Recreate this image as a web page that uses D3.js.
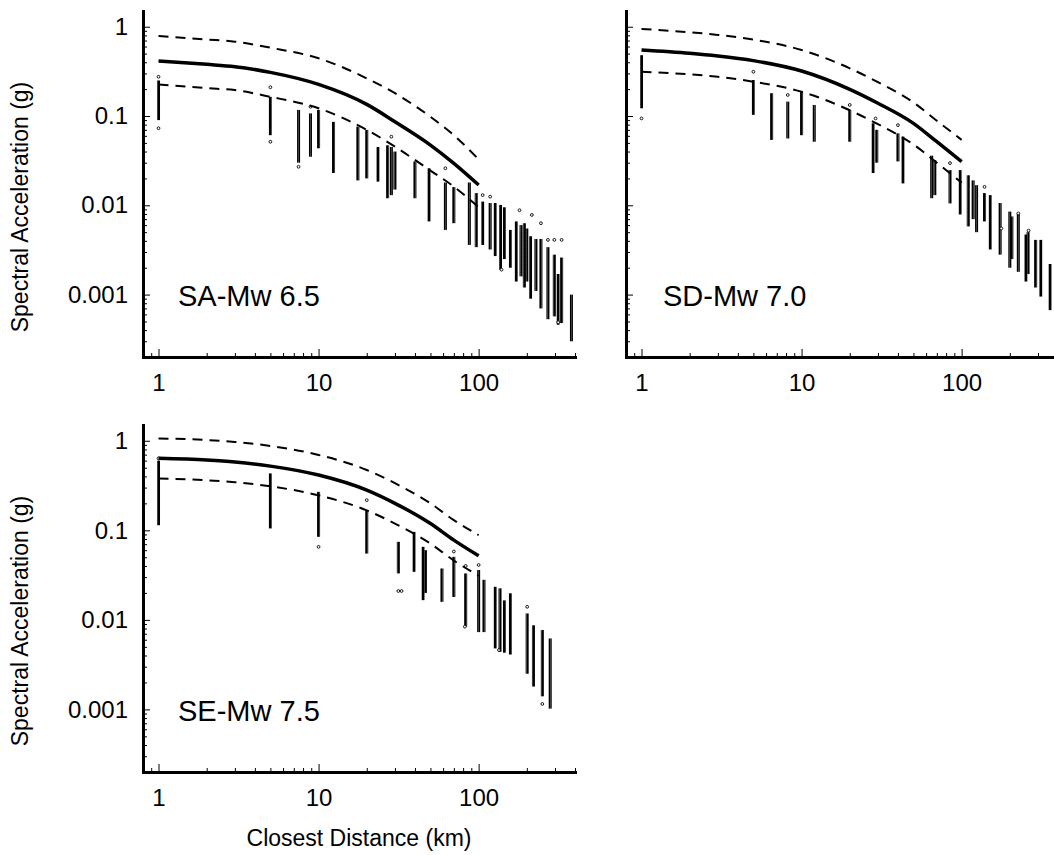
<!DOCTYPE html>
<meta charset="utf-8">
<head>
  <style>
    body { margin: 0; background: #fff; }
    svg { display: block; font-family: "Liberation Sans", Arial, sans-serif; }
    .domain { stroke: #000; stroke-width: 3px; stroke-linecap: square; }
    .tick line { stroke: #000; stroke-width: 1px; }
    .tick text { font-size: 24px; fill: #000; }
    .median { fill: none; stroke: #000; stroke-width: 3.5px; }
    .bound { fill: none; stroke: #000; stroke-width: 2px; stroke-dasharray: 10,7; }
    .pt { fill: #fff; stroke: #000; stroke-width: 0.9px; }
    .panel-label { font-size: 29px; }
    .axis-title { font-size: 23px; }
  </style>
</head>
<body>
<script src="https://d3js.org/d3.v7.min.js"></script>
<script>
// ---- data ----
// columns: [distance km, top of cluster (g), bottom of cluster (g)]
const saColumns = [
  [1, 0.25, 0.09], [5, 0.164, 0.061], [7.5, 0.117, 0.03], [8.9, 0.107, 0.035], [10, 0.117, 0.0435],
  [12.4, 0.086, 0.023], [17.6, 0.076, 0.019], [20, 0.07, 0.02], [23.5, 0.045, 0.0184],
  [27, 0.047, 0.012], [28.5, 0.045, 0.013], [30, 0.04, 0.015], [40, 0.031, 0.012],
  [49, 0.026, 0.0066], [62, 0.018, 0.0053], [70, 0.016, 0.0063], [87.5, 0.018, 0.0036],
  [96.6, 0.0137, 0.0034], [106, 0.011, 0.0036], [118, 0.0106, 0.0032], [127, 0.0106, 0.0027],
  [137, 0.0101, 0.0019], [145, 0.0095, 0.0025], [158, 0.0053, 0.002], [172, 0.0066, 0.0014],
  [184, 0.006, 0.0016], [193, 0.0063, 0.0012], [200, 0.0055, 0.0014], [211, 0.0045, 0.0009],
  [228, 0.0042, 0.0011], [245, 0.0042, 0.0007], [271, 0.0034, 0.00053], [297, 0.0028, 0.00057],
  [314, 0.0017, 0.00046], [330, 0.0026, 0.00048], [380, 0.001, 0.0003]
];
const saOutliers = [
  [1, 0.275], [1, 0.073], [5, 0.21], [5, 0.0515], [8.9, 0.127], [7.5, 0.027], [28.5, 0.0587],
  [62, 0.026], [106, 0.013], [118, 0.0125], [139, 0.0019], [180, 0.0088], [215, 0.0078],
  [245, 0.0063], [271, 0.0041], [297, 0.0041], [330, 0.0041], [314, 0.00049]
];
const sdColumns = [
  [1, 0.48, 0.122], [5, 0.253, 0.103], [6.5, 0.18, 0.054], [8.2, 0.145, 0.056], [10, 0.187, 0.061],
  [12, 0.133, 0.0515], [20, 0.117, 0.0515], [28, 0.083, 0.023], [29.5, 0.07, 0.03],
  [40, 0.064, 0.031], [43, 0.0587, 0.0176], [65, 0.036, 0.012], [68, 0.032, 0.013],
  [84.6, 0.0248, 0.0105], [98, 0.0248, 0.0079], [110, 0.0217, 0.0058], [118, 0.019, 0.007],
  [124, 0.0168, 0.005], [139, 0.0137, 0.0066], [151, 0.013, 0.0032], [174, 0.0106, 0.0028],
  [200, 0.0085, 0.002], [206, 0.0075, 0.0025], [226, 0.0081, 0.0018], [252, 0.0047, 0.0014],
  [260, 0.005, 0.0017], [290, 0.0041, 0.0012], [312, 0.0041, 0.00095], [357, 0.0022, 0.00067]
];
const sdOutliers = [
  [1, 0.094], [5, 0.313], [8.2, 0.172], [20, 0.133], [29, 0.094], [40, 0.079], [84.6, 0.0297],
  [139, 0.0161], [177, 0.0055], [226, 0.0081], [262, 0.0052]
];
const seColumns = [
  [1, 0.6, 0.114], [5, 0.432, 0.105], [10, 0.269, 0.0846], [20, 0.168, 0.055], [31.5, 0.0744, 0.033],
  [39.5, 0.096, 0.0344], [45, 0.0654, 0.0166], [46.5, 0.06, 0.02], [59, 0.0375, 0.0159],
  [70, 0.0506, 0.018], [83, 0.033, 0.0084], [100, 0.036, 0.0073], [108, 0.028, 0.0073],
  [127, 0.0234, 0.0048], [136, 0.0225, 0.0044], [145, 0.0165, 0.0043], [158, 0.0198, 0.0041],
  [201, 0.0118, 0.0025], [220, 0.0087, 0.0018], [250, 0.0077, 0.0014], [280, 0.0062, 0.00102]
];
const seOutliers = [
  [1, 0.636], [10, 0.0654], [20, 0.217], [31.5, 0.021], [33, 0.021], [70, 0.058], [83, 0.04],
  [82, 0.0084], [100, 0.041], [134, 0.0046], [201, 0.014], [250, 0.00115]
];

// predicted median and +/- one sigma curves
const curveDist = [1, 2, 3, 5, 10, 20, 30, 50, 70, 100];
const saMedian = [0.413, 0.379, 0.357, 0.308, 0.226, 0.135, 0.0863, 0.0473, 0.0295, 0.0169];
const saUpper  = [0.787, 0.72, 0.68, 0.582, 0.443, 0.264, 0.18, 0.098, 0.061, 0.0327];
const saLower  = [0.226, 0.205, 0.195, 0.164, 0.122, 0.07, 0.0453, 0.0245, 0.0162, 0.0095];
const sdMedian = [0.548, 0.504, 0.47, 0.417, 0.319, 0.199, 0.139, 0.0828, 0.0515, 0.0308];
const sdUpper  = [0.943, 0.867, 0.81, 0.717, 0.549, 0.342, 0.239, 0.142, 0.0886, 0.054];
const sdLower  = [0.313, 0.293, 0.275, 0.242, 0.187, 0.116, 0.081, 0.048, 0.030, 0.0179];
const seMedian = [0.636, 0.609, 0.58, 0.521, 0.414, 0.281, 0.2, 0.119, 0.0777, 0.0519];
const seUpper  = [1.06, 1.02, 0.97, 0.875, 0.695, 0.472, 0.336, 0.2, 0.13, 0.0883];
const seLower  = [0.38, 0.362, 0.345, 0.31, 0.246, 0.167, 0.119, 0.071, 0.046, 0.031];

const xMajor = [1, 10, 100];
const xMinor = [0.9, 2, 3, 4, 5, 6, 7, 8, 9, 20, 30, 40, 50, 60, 70, 80, 90, 200, 300, 400];
const yMajor = [1, 0.1, 0.01, 0.001];
const yMinor = [0.0003, 0.0004, 0.0005, 0.0006, 0.0007, 0.0008, 0.0009,
  0.002, 0.003, 0.004, 0.005, 0.006, 0.007, 0.008, 0.009,
  0.02, 0.03, 0.04, 0.05, 0.06, 0.07, 0.08, 0.09,
  0.2, 0.3, 0.4, 0.5, 0.6, 0.7, 0.8, 0.9];

const W = 1054, H = 855;
const svg = d3.select("body").append("svg").attr("width", W).attr("height", H);

// texture used for the dense stacks of open circles
const pat = svg.append("defs").append("pattern")
  .attr("id", "dots").attr("patternUnits", "userSpaceOnUse")
  .attr("width", 3).attr("height", 2);
pat.append("rect").attr("width", 3).attr("height", 2).attr("fill", "#000");
pat.append("circle").attr("cx", 1.5).attr("cy", 1).attr("r", 0.45).attr("fill", "#fff");

const panels = [
  { label: "SA-Mw 6.5", cols: saColumns, pts: saOutliers, med: saMedian, up: saUpper, lo: saLower,
    x0: 143, x1: 575, yb: 357, yt: 11, yLabels: true, lx: 178, ly: 306 },
  { label: "SD-Mw 7.0", cols: sdColumns, pts: sdOutliers, med: sdMedian, up: sdUpper, lo: sdLower,
    x0: 626, x1: 1058, yb: 357, yt: 11, yLabels: false, lx: 663, ly: 306 },
  { label: "SE-Mw 7.5", cols: seColumns, pts: seOutliers, med: seMedian, up: seUpper, lo: seLower,
    x0: 143, x1: 575, yb: 772, yt: 425, yLabels: true, lx: 178, ly: 721 }
];

panels.forEach(p => {
  const x = d3.scaleLog().domain([0.8, 400]).range([p.x0, p.x1]);
  const y = d3.scaleLog().domain([0.0002, 1.5]).range([p.yb, p.yt]);
  const g = svg.append("g");

  // scatter clusters
  g.selectAll("rect.col").data(p.cols).join("rect")
    .attr("class", "col")
    .attr("x", d => x(d[0]) - 1.5)
    .attr("width", 3)
    .attr("y", d => y(d[1]))
    .attr("height", d => y(d[2]) - y(d[1]))
    .attr("fill", "url(#dots)");

  g.selectAll("circle.pt").data(p.pts).join("circle")
    .attr("class", "pt")
    .attr("cx", d => x(d[0]))
    .attr("cy", d => y(d[1]))
    .attr("r", 1.4);

  const line = d3.line()
    .x((d, i) => x(curveDist[i]))
    .y(d => y(d))
    .curve(d3.curveMonotoneX);

  g.append("path").attr("class", "bound").attr("d", line(p.up));
  g.append("path").attr("class", "bound").attr("d", line(p.lo));
  g.append("path").attr("class", "median").attr("d", line(p.med));

  // axes, ticks point inward
  const xa = g.append("g").attr("transform", `translate(0,${p.yb})`);
  xa.call(d3.axisBottom(x).tickValues(xMinor).tickSize(-4).tickSizeOuter(0).tickFormat(""));
  xa.append("g").call(d3.axisBottom(x).tickValues(xMajor).tickSize(-8).tickSizeOuter(0)
    .tickPadding(17).tickFormat(d3.format("")))
    .select(".domain").remove();

  const ya = g.append("g").attr("transform", `translate(${p.x0},0)`);
  ya.call(d3.axisLeft(y).tickValues(yMinor).tickSize(-4).tickSizeOuter(0).tickFormat(""));
  ya.append("g").call(d3.axisLeft(y).tickValues(yMajor).tickSize(-7).tickSizeOuter(0)
    .tickPadding(15).tickFormat(d => p.yLabels ? d3.format("")(d) : ""))
    .select(".domain").remove();

  g.selectAll(".tick text").attr("font-family", null).attr("font-size", null);

  g.append("text").attr("class", "panel-label")
    .attr("x", p.lx).attr("y", p.ly).text(p.label);
});

// axis titles
[207, 621].forEach(cy => {
  svg.append("text").attr("class", "axis-title")
    .attr("transform", `translate(28,${cy}) rotate(-90)`)
    .attr("text-anchor", "middle")
    .text("Spectral Acceleration (g)");
});
svg.append("text").attr("class", "axis-title")
  .attr("x", 359).attr("y", 846).attr("text-anchor", "middle")
  .text("Closest Distance (km)");
</script>
</body>
